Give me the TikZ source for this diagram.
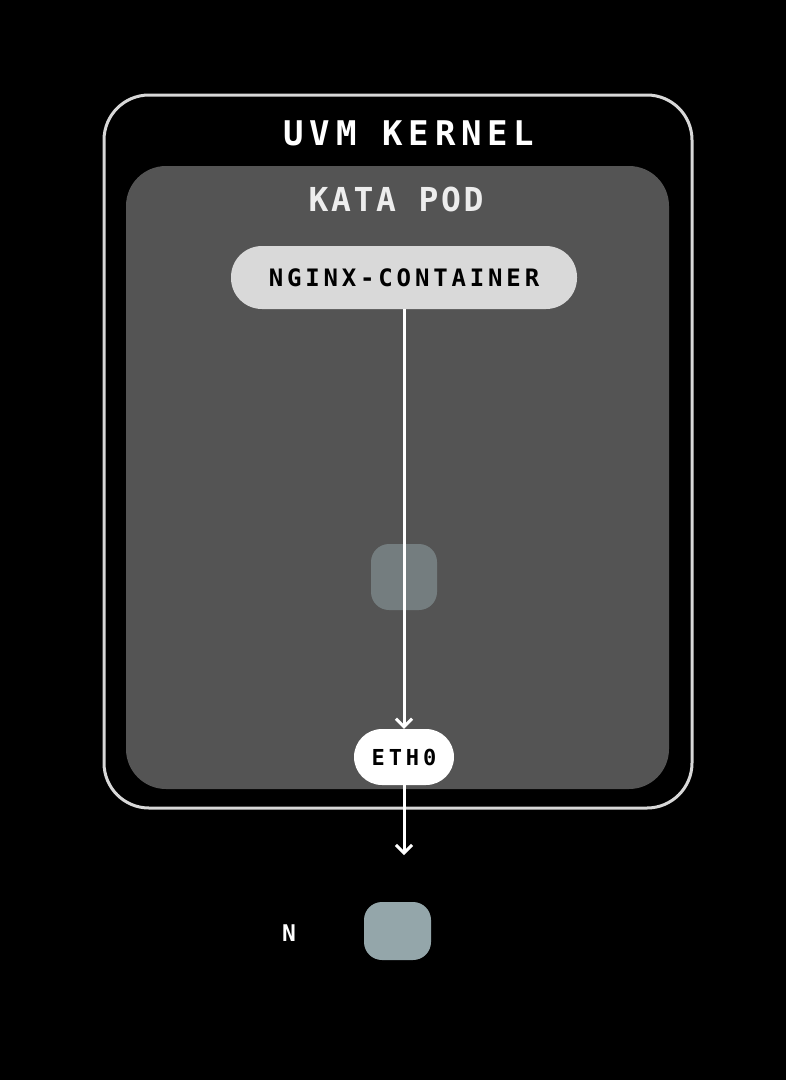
\documentclass[tikz,border=0pt]{standalone}
\usepackage{fontspec}
\usepackage{tikz}
\usetikzlibrary{arrows.meta}
\newfontfamily\kernelfont[LetterSpace=17]{DejaVu Sans Mono Bold}
\newfontfamily\podfont[LetterSpace=8]{DejaVu Sans Mono Bold}
\newfontfamily\boxfont[LetterSpace=16]{DejaVu Sans Mono Bold}
\newfontfamily\ethfont[LetterSpace=18]{DejaVu Sans Mono Bold}
\definecolor{bordergray}{HTML}{D8D8D8}
\definecolor{podgray}{HTML}{545454}
\definecolor{pillgray}{HTML}{D9D9D9}
\definecolor{midslate}{HTML}{747D7F}
\definecolor{slate}{HTML}{94A6AA}
\tikzset{
  pill/.style={rounded corners=#1, inner sep=0pt, text=black},
  flow/.style={draw=white, line width=3pt, arrows={-Straight Barb[length=8pt, width=16pt]}},
  slatebox/.style={rounded corners=18pt, inner sep=0pt}
}
\begin{document}
\begin{tikzpicture}[x=1pt, y=-1pt]
\fill[black] (0, 0) rectangle (786, 1080);
\useasboundingbox (0, 0) rectangle (786, 1080);
\node[draw=bordergray, line width=3pt, fill=black, rounded corners=45pt, minimum width=588pt, minimum height=713pt] (kernel) at (398, 451.5) {};
\node[text=white, font=\kernelfont\fontsize{34}{34}\selectfont] (kernel_label) at (409, 133) {UVM KERNEL};
\node[fill=podgray, rounded corners=40pt, minimum width=543pt, minimum height=623pt] (pod) at (397.5, 477.5) {};
\node[text=white!93!black, font=\podfont\fontsize{33}{33}\selectfont] (pod_label) at (396, 199) {KATA POD};
\node[pill=31pt, fill=pillgray, minimum width=346pt, minimum height=63pt, font=\boxfont\fontsize{24}{24}\selectfont] (nginx) at (404, 277.5) {NGINX-CONTAINER};
\node[slatebox, fill=midslate, minimum width=66pt, minimum height=66pt] (mid_port) at (404, 577) {};
\node[pill=28pt, fill=white, minimum width=100pt, minimum height=56pt, font=\ethfont\fontsize{22}{22}\selectfont] (eth0) at (404, 757) {ETH0};
\coordinate (out_end) at (404, 855);
\draw[flow] (nginx.south) -- (eth0.north);
\draw[flow] (eth0.south) -- (out_end);
\node[slatebox, fill=slate, minimum width=67pt, minimum height=58pt] (net_port) at (397.5, 931) {};
\node[text=white, font=\kernelfont\fontsize{23}{23}\selectfont] (net_label) at (289, 933) {N};
\end{tikzpicture}
\end{document}
